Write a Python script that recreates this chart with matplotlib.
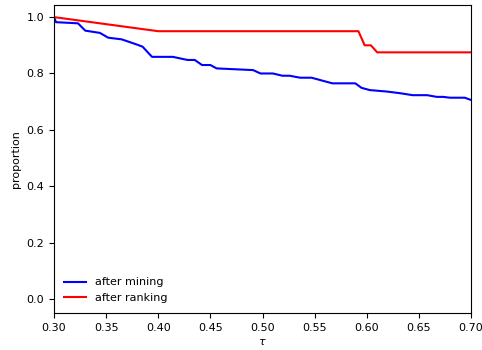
import matplotlib
matplotlib.use('Agg')
import matplotlib.pyplot as plt

# tau values and proportions
tau_mining = [0.300, 0.302, 0.323, 0.330, 0.344, 0.352, 0.365, 0.380, 0.385, 0.394,
              0.414, 0.428, 0.435, 0.442, 0.450, 0.456, 0.491, 0.498, 0.510, 0.519,
              0.526, 0.536, 0.547, 0.555, 0.567, 0.589, 0.595, 0.603, 0.619, 0.632,
              0.644, 0.658, 0.667, 0.673, 0.680, 0.694, 0.700]
prop_mining = [1.000, 0.982, 0.978, 0.952, 0.944, 0.927, 0.921, 0.902, 0.895, 0.859,
               0.859, 0.848, 0.848, 0.830, 0.830, 0.818, 0.812, 0.800, 0.800, 0.792,
               0.792, 0.785, 0.785, 0.777, 0.765, 0.765, 0.749, 0.741, 0.736, 0.730,
               0.723, 0.723, 0.717, 0.717, 0.714, 0.714, 0.706]

tau_ranking = [0.300, 0.400, 0.592, 0.598, 0.604, 0.610, 0.700]
prop_ranking = [1.000, 0.950, 0.950, 0.900, 0.900, 0.875, 0.875]

plt.rcParams['font.size'] = 8

fig = plt.figure(figsize=(4.82, 3.5), dpi=100)
ax = fig.add_axes([54 / 482, 1 - 313 / 350, 417 / 482, 308 / 350])

ax.plot(tau_mining, prop_mining, c='b', lw=1.5, label='after mining')
ax.plot(tau_ranking, prop_ranking, c='r', lw=1.5, label='after ranking')

ax.set_xlim(0.30, 0.70)
ax.set_ylim(-0.05, 1.043)
ax.set_xticks([0.30, 0.35, 0.40, 0.45, 0.50, 0.55, 0.60, 0.65, 0.70])
ax.set_yticks([0.0, 0.2, 0.4, 0.6, 0.8, 1.0])
ax.set_xlabel(r'$\tau$', labelpad=3)
ax.set_ylabel('proportion')
ax.legend(loc='lower left', frameon=False)

fig.savefig('out.png', dpi=100)
